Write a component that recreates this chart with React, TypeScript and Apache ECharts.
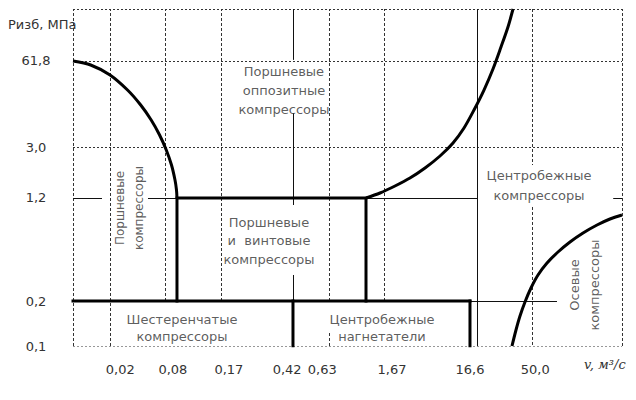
import React, { useEffect, useRef } from "react";
import * as echarts from "echarts";

// Schematic axes: positions are in relative axis units (0..100) because the
// original chart has non-uniform (schematic) scales.
const xTickLabels = ["0,02", "0,08", "0,17", "0,42", "0,63", "1,67", "16,6", "50,0"];
const xTickPos = [8.6, 18.2, 28.4, 39.0, 45.4, 58.1, 72.3, 84.2];
const yTickLabels = ["0,1", "0,2", "1,2", "3,0", "61,8"];
const yTickPos = [0, 13.35, 43.92, 59.05, 84.57];

// Boundary curves
const pistonLimit = [
  [0, 84.57], [3.22, 83.38], [6.74, 80.42], [9.93, 75.96], [12.33, 71.51], [14.24, 67.06],
  [15.77, 62.61], [16.99, 58.16], [17.94, 53.71], [18.58, 49.26], [18.85, 46.29], [18.94, 43.92],
];
const centrifugalLimit = [
  [53.37, 43.92], [55.92, 45.4], [58.65, 47.48], [61.38, 49.85], [64.12, 52.82], [66.85, 56.38],
  [69.22, 60.24], [71.22, 64.69], [73.04, 70.03], [74.86, 75.96], [76.5, 82.2], [77.96, 88.72],
  [79.23, 94.66], [80.15, 100],
];
const axialLimit = [
  [79.96, 0], [80.69, 4.75], [81.42, 8.9], [82.33, 13.06], [83.42, 17.21], [84.7, 21.07],
  [86.34, 24.63], [88.34, 27.89], [90.53, 30.86], [92.9, 33.53], [95.45, 35.91], [97.81, 37.69],
  [100, 38.87],
];

// Bold region boundaries
const boldPaths = [
  [[18.94, 13.35], [18.94, 43.92], [53.37, 43.92], [53.37, 13.35]],
  [[0, 13.35], [72.31, 13.35]],
  [[40.07, 13.35], [40.07, 0]],
  [[72.31, 13.35], [72.31, 0]],
];

// Thin solid reference lines (0,42 ; 16,6 ; 1,2 ; 0,2)
const thinSegments = [
  [[40.07, 100], [40.07, 84.9]],
  [[40.07, 69.1], [40.07, 41.84]],
  [[40.07, 21.07], [40.07, 13.35]],
  [[73.59, 0], [73.59, 100]],
  [[0, 43.92], [5.28, 43.92]],
  [[13.66, 43.92], [18.94, 43.92]],
  [[53.37, 43.92], [73.59, 43.92]],
  [[98.4, 43.92], [100, 43.92]],
  [[72.31, 13.35], [88.16, 13.35]],
];

// Dashed vertical grid lines
const dashedVertical = [
  [[0, 0], [0, 100]],
  [[6.74, 0], [6.74, 100]],
  [[16.76, 13.35], [16.76, 100]],
  [[26.96, 13.35], [26.96, 100]],
  [[46.63, 13.35], [46.63, 100]],
  [[46.63, 0], [46.63, 3.9]],
  [[56.65, 13.35], [56.65, 100]],
  [[83.61, 100], [83.61, 53.7]],
  [[83.61, 41.25], [83.61, 0]],
  [[100, 0], [100, 100]],
];

// Dotted horizontal grid lines
const dottedHorizontal = [
  [[0, 100], [100, 100]],
  [[0, 84.57], [100, 84.57]],
  [[0, 59.05], [100, 59.05]],
  [[0, 0], [100, 0]],
];

const regionNames = [
  "Поршневые\nоппозитные\nкомпрессоры",
  "Поршневые\nкомпрессоры",
  "Поршневые\nи  винтовые\nкомпрессоры",
  "Центробежные\nкомпрессоры",
  "Осевые\nкомпрессоры",
  "Шестеренчатые\nкомпрессоры",
  "Центробежные\nнагнетатели",
];
const regionX = [38.43, 10.38, 35.7, 84.88, 93.26, 19.85, 56.28];
const regionY = [75.67, 40.95, 31.16, 47.77, 18.1, 5.34, 5.34];
const regionRotate = [0, 90, 0, 0, 90, 0, 0];

const nearestLabel = (v: number, pos: number[], labels: string[]) => {
  let best = 0;
  for (let i = 1; i < pos.length; i++) {
    if (Math.abs(pos[i] - v) < Math.abs(pos[best] - v)) best = i;
  }
  return labels[best];
};

const FONT = "DejaVu Sans";

export default function App() {
  const ref = useRef<HTMLDivElement>(null);
  useEffect(() => {
    document.body.style.margin = "0";
    if (!ref.current) return;
    const chart = echarts.init(ref.current, undefined, { renderer: "svg" });
    const toLines = (segs: number[][][]) => segs.map((c) => ({ coords: c }));
    const regionSizes = [13, 12, 13, 13, 13, 13, 13];
    const regionLH = [19, 19, 18.5, 20, 20, 16.5, 16.5];
    chart.setOption({
      animation: false,
      backgroundColor: "#ffffff",
      grid: { left: 73, top: 9, right: 14, bottom: 54 },
      xAxis: {
        type: "value",
        min: 0,
        max: 100,
        axisLine: { show: false },
        axisTick: { show: false },
        splitLine: { show: false },
        axisLabel: {
          customValues: xTickPos,
          margin: 17,
          color: "#333",
          fontFamily: FONT,
          fontSize: 13,
          formatter: (v: number) => nearestLabel(v, xTickPos, xTickLabels),
        },
      },
      yAxis: {
        type: "value",
        min: 0,
        max: 100,
        axisLine: { show: false },
        axisTick: { show: false },
        splitLine: { show: false },
        axisLabel: {
          customValues: yTickPos,
          margin: 37,
          align: "center",
          color: "#333",
          fontFamily: FONT,
          fontSize: 13,
          formatter: (v: number) => nearestLabel(v, yTickPos, yTickLabels),
        },
      },
      graphic: [
        {
          type: "text",
          left: 8,
          top: 18,
          style: { text: "Ризб, МПа", fill: "#333", font: `13px "${FONT}"` },
        },
        {
          type: "text",
          left: 584,
          top: 358,
          style: { text: "v, м³/с", fill: "#333", font: `italic 13px "DejaVu Serif"` },
        },
      ],
      series: [
        {
          type: "lines",
          coordinateSystem: "cartesian2d",
          silent: true,
          lineStyle: { color: "#333", width: 1, type: [3, 2], opacity: 1 },
          data: toLines(dashedVertical),
        },
        {
          type: "lines",
          coordinateSystem: "cartesian2d",
          silent: true,
          lineStyle: { color: "#333", width: 1, type: [2, 2], opacity: 1 },
          data: toLines(dottedHorizontal),
        },
        {
          type: "lines",
          coordinateSystem: "cartesian2d",
          silent: true,
          lineStyle: { color: "#111", width: 1, type: "solid", opacity: 1 },
          data: toLines(thinSegments),
        },
        {
          type: "lines",
          coordinateSystem: "cartesian2d",
          polyline: true,
          silent: true,
          lineStyle: { color: "#000", width: 3, opacity: 1, cap: "square", join: "miter" },
          data: toLines(boldPaths),
        },
        ...[pistonLimit, centrifugalLimit, axialLimit].map((d) => ({
          type: "line",
          data: d,
          smooth: 0.3,
          showSymbol: false,
          silent: true,
          clip: false,
          lineStyle: { color: "#000", width: 3 },
        })),
        {
          type: "scatter",
          silent: true,
          symbolSize: 1,
          itemStyle: { color: "rgba(0,0,0,0)" },
          data: regionNames.map((t, i) => ({
            value: [regionX[i], regionY[i]],
            label: {
              show: true,
              position: "inside",
              formatter: t,
              rotate: regionRotate[i],
              fontSize: regionSizes[i],
              lineHeight: regionLH[i],
              fontFamily: FONT,
              color: "#333",
              align: "center",
              verticalAlign: "middle",
            },
          })),
        },
      ],
    });
    return () => chart.dispose();
  }, []);
  return <div ref={ref} style={{ width: 636, height: 400 }} />;
}
